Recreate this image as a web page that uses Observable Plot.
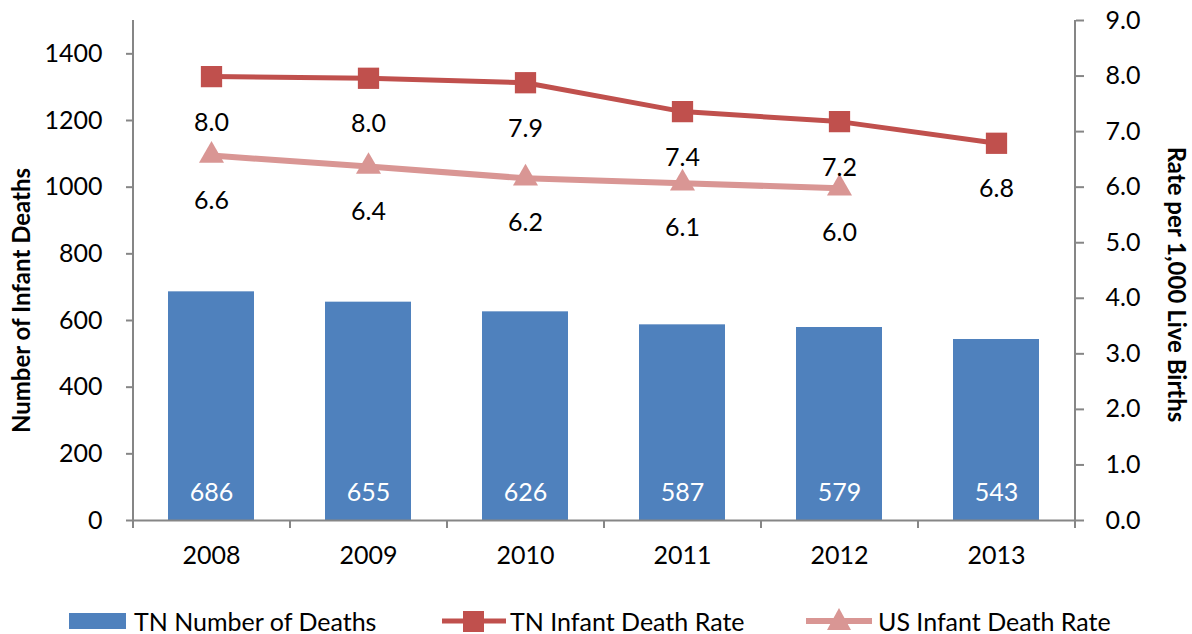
<!DOCTYPE html>
<html>
<head>
<meta charset="utf-8">
<script src="https://cdn.jsdelivr.net/npm/d3@7"></script>
<script src="https://cdn.jsdelivr.net/npm/@observablehq/plot@0.6"></script>
<style>
  html, body { margin: 0; padding: 0; background: #fff; }
  #chart { width: 1192px; }
  #legend { position: relative; width: 1192px; height: 54px; font-family: Lato, "Open Sans", sans-serif; font-size: 25px; color: #000; }
  #legend .t { position: absolute; top: 29px; line-height: 24px; white-space: nowrap; }
  #legend .s { position: absolute; }
</style>
</head>
<body>
<div id="chart"></div>
<div id="legend">
  <div class="s" style="left:69px;top:33px;width:57px;height:16px;background:#4F81BD"></div>
  <div class="t" style="left:134px">TN Number of Deaths</div>
  <svg class="s" style="left:442px;top:21px" width="64" height="40">
    <line x1="0" y1="20" x2="64" y2="20" stroke="#C0504D" stroke-width="5"/>
    <rect x="21" y="10" width="21" height="21" fill="#C0504D"/>
  </svg>
  <div class="t" style="left:510px">TN Infant Death Rate</div>
  <svg class="s" style="left:806px;top:21px" width="66" height="40">
    <line x1="0" y1="20" x2="66" y2="20" stroke="#D99694" stroke-width="6"/>
    <polygon points="33,7 45,29 21,29" fill="#D99694"/>
  </svg>
  <div class="t" style="left:878px">US Infant Death Rate</div>
</div>
<script>
// ---- data ----
const years = ["2008", "2009", "2010", "2011", "2012", "2013"];
const tnDeaths = [686, 655, 626, 587, 579, 543];
const tnRate = [7.99, 7.96, 7.88, 7.36, 7.18, 6.79];
const usYears = ["2008", "2009", "2010", "2011", "2012"];
const usRate = [6.57, 6.37, 6.16, 6.07, 5.98];
const leftTicks = [0, 200, 400, 600, 800, 1000, 1200, 1400];
const rightTicks = [0, 1, 2, 3, 4, 5, 6, 7, 8, 9];
const leftMax = 1500;
const rightMax = 9;

const deathsData = years.map((y, i) => ({year: y, deaths: tnDeaths[i]}));
const tnData = years.map((y, i) => ({year: y, rate: tnRate[i]}));
const usData = usYears.map((y, i) => ({year: y, rate: usRate[i]}));

const W = 1192, H = 580, ml = 133, mr = 117, mt = 20, mb = 60;
const step = (W - ml - mr) / years.length;
const k = leftMax / rightMax;
const axisColor = "#868686";
const red = "#C0504D", pink = "#D99694", blue = "#4F81BD";

const chart = Plot.plot({
  width: W, height: H,
  marginLeft: ml, marginRight: mr, marginTop: mt, marginBottom: mb,
  style: {fontFamily: "Lato, 'Open Sans', sans-serif", fontSize: "25px", color: "#000", background: "#fff"},
  x: {type: "band", domain: years, paddingInner: 0.45, paddingOuter: 0.225, align: 0.5},
  y: {domain: [0, leftMax]},
  marks: [
    Plot.barY(deathsData, {x: "year", y: "deaths", fill: blue}),
    Plot.ruleY([0], {stroke: axisColor, strokeWidth: 2}),
    Plot.ruleX([years[0]], {dx: -step / 2, stroke: axisColor, strokeWidth: 2, insetBottom: -8}),
    Plot.ruleX([years[years.length - 1]], {dx: step / 2, stroke: axisColor, strokeWidth: 2, insetBottom: -8}),
    Plot.axisY({ticks: leftTicks, tickFormat: d => String(d), tickSize: 7, tickPadding: 24, label: null, stroke: axisColor, strokeWidth: 2, fill: "#000", fontSize: 25}),
    Plot.axisY({anchor: "right", ticks: rightTicks.map(r => r * k), tickFormat: d => (d / k).toFixed(1),
      tickSize: 8, tickPadding: 22, label: null, stroke: axisColor, strokeWidth: 2, fill: "#000", fontSize: 25}),
    Plot.axisX({tickSize: 0, tickPadding: 26, label: null, fill: "#000", fontSize: 25}),
    Plot.axisX({text: null, tickSize: 8, dx: step / 2, label: null, stroke: axisColor, strokeWidth: 2}),
    Plot.text(deathsData, {x: "year", y: 0, text: d => String(d.deaths), dy: -28, fill: "#fff", fontSize: 25}),
    Plot.line(usData, {x: "year", y: d => d.rate * k, stroke: pink, strokeWidth: 6}),
    Plot.dot(usData, {x: "year", y: d => d.rate * k, symbol: "triangle", r: 9.3, fill: pink}),
    Plot.line(tnData, {x: "year", y: d => d.rate * k, stroke: red, strokeWidth: 5}),
    Plot.dot(tnData, {x: "year", y: d => d.rate * k, symbol: "square", r: 12, fill: red}),
    Plot.text(tnData, {x: "year", y: d => d.rate * k, text: d => d.rate.toFixed(1), dy: 46, fill: "#000", fontSize: 25}),
    Plot.text(usData, {x: "year", y: d => d.rate * k, text: d => d.rate.toFixed(1), dy: 45, fill: "#000", fontSize: 25}),
    Plot.text(["Number of Infant Deaths"], {text: d => d, frameAnchor: "left", textAnchor: "middle", rotate: -90,
      dx: -111, dy: 30, fontWeight: "bold", fontSize: 24, fill: "#000"}),
    Plot.text(["Rate per 1,000 Live Births"], {text: d => d, frameAnchor: "right", textAnchor: "middle", rotate: 90,
      dx: 100, dy: 14, fontWeight: "bold", fontSize: 24, fill: "#000"})
  ]
});
document.getElementById("chart").appendChild(chart);
</script>
</body>
</html>
